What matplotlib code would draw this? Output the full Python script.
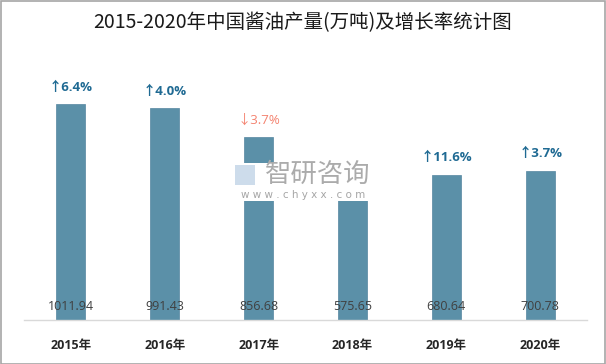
import matplotlib
matplotlib.use("Agg")
import matplotlib.pyplot as plt
from matplotlib.patches import Rectangle

years = ["2015年", "2016年", "2017年", "2018年", "2019年", "2020年"]
production = [1011.94, 991.43, 856.68, 575.65, 680.64, 700.78]
growth_labels = ["↑6.4%", "↑4.0%", "↓3.7%", "", "↑11.6%", "↑3.7%"]
growth_up = [True, True, False, None, True, True]

W, H = 606, 364
fig = plt.figure(figsize=(W / 100, H / 100), dpi=100)
fig.patch.set_facecolor("white")

# axes placement in pixels
left, right, bottom, top = 24, 587, 320, 64
ax = fig.add_axes([left / W, 1 - bottom / H, (right - left) / W, (bottom - top) / H])
ax.set_xlim(-0.5, len(years) - 0.5)
ax.set_ylim(0, 1200)

bar_color = "#5b90a8"
x = list(range(len(years)))
ax.bar(x, production, width=0.31, color=bar_color, edgecolor="#5586a0",
       linewidth=0.5, zorder=2)

for s in ["top", "right", "left"]:
    ax.spines[s].set_visible(False)
ax.spines["bottom"].set_color("#d9d9d9")
ax.spines["bottom"].set_linewidth(1.0)
ax.set_yticks([])
ax.set_xticks(x)
ax.set_xticklabels(years, fontsize=9, fontweight="bold", color="#262626",
                   family=["Open Sans", "Noto Sans CJK SC", "DejaVu Sans"])
ax.tick_params(axis="x", length=0, pad=14)

for i, v in enumerate(production):
    ax.annotate(f"{v:.2f}", (i, 0), xytext=(0, 9.4), textcoords="offset points",
                ha="center", va="center", fontsize=9, color="#404040",
                family=["Open Sans", "DejaVu Sans"], zorder=4)
    lab = growth_labels[i]
    if lab:
        up = growth_up[i]
        ax.annotate(lab, (i, v), xytext=(0, 12.2), textcoords="offset points",
                    ha="center", va="center", fontsize=9.5,
                    fontweight="bold" if up else "normal",
                    color="#1f6a93" if up else "#f4826f",
                    family=["Open Sans", "Noto Sans CJK SC", "DejaVu Sans"], zorder=4)

# watermark
fig.patches.append(Rectangle((230 / W, 1 - 201 / H), 148 / W, 38 / H,
                             transform=fig.transFigure, facecolor="white",
                             edgecolor="none", zorder=5))
fig.text(318 / W, 1 - 174 / H, "智研咨询", ha="center", va="center", fontsize=19,
         color="#ababab", family=["Noto Sans CJK SC"], fontweight="light", zorder=6)
fig.text(303 / W, 1 - 195 / H, "w w w . c h y x x . c o m", ha="center",
         va="center", fontsize=7.5, color="#a6a6a6", family=["DejaVu Sans"], zorder=6)
fig.patches.append(Rectangle((235 / W, 1 - 185 / H), 20 / W, 20 / H,
                             transform=fig.transFigure, facecolor="#cddceb",
                             edgecolor="none", zorder=6))

# title
fig.text(303 / W, 1 - 23 / H, "2015-2020年中国酱油产量(万吨)及增长率统计图",
         ha="center", va="center", fontsize=14, color="#1a1a1a",
         family=["Noto Sans CJK SC", "DejaVu Sans"])

# outer border
fig.patches.append(Rectangle((0.5 / W, 0.5 / H), (W - 1.5) / W, (H - 1.5) / H,
                             transform=fig.transFigure, facecolor="none",
                             edgecolor="#a6a6a6", linewidth=1.2, zorder=10))

fig.savefig("out.png", dpi=100)
